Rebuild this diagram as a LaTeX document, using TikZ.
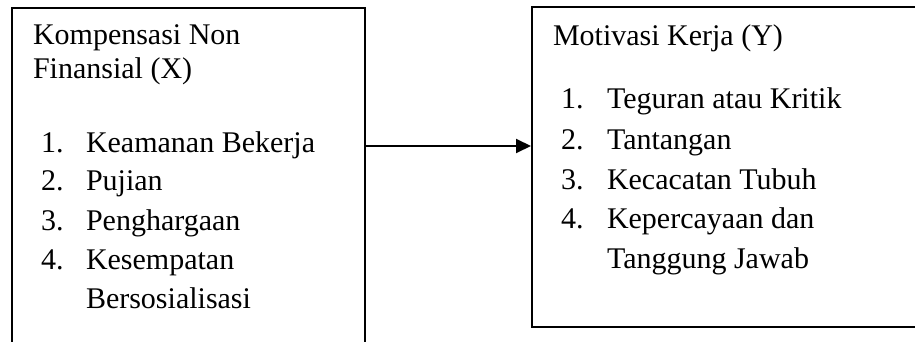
\documentclass[tikz,border=0pt]{standalone}
\usepackage{fontspec}
\setmainfont{Liberation Serif}
\usetikzlibrary{arrows.meta}
\usetikzlibrary{positioning}

\tikzset{
	box/.style={draw,line width=1pt,rectangle,inner sep=0pt},
	txt/.style={anchor=base west,inner sep=0pt,font=\fontsize{15pt}{18pt}\selectfont},
	>={Triangle[length=7.5pt,width=7pt]}
}

\begin{document}
\begin{tikzpicture}[x=0.5pt,y=-0.5pt,line width=1pt]
	\useasboundingbox (0,0) rectangle (915,342);
	\clip (0,0) rectangle (915,342);
	% the two boxes
	\node[box,minimum width=176.5pt,minimum height=186pt] (X) at (188.5,194) {};
	\node[box,minimum width=209pt,minimum height=160pt] (Y) at (741,167) {};
	% left box texts
	\node[txt] (XT1) at (32,45) {Kompensasi Non};
	\node[txt] (XT2) at (32,79) {Finansial (X)};
	\node[txt] (XN1) at (40,152) {1.};
	\node[txt] (X1) at (85,152) {Keamanan Bekerja};
	\node[txt] (XN2) at (40,191) {2.};
	\node[txt] (X2) at (85,191) {Pujian};
	\node[txt] (XN3) at (40,230) {3.};
	\node[txt] (X3) at (85,230) {Penghargaan};
	\node[txt] (XN4) at (40,269) {4.};
	\node[txt] (X4) at (85,269) {Kesempatan};
	\node[txt] (X4b) at (85,308) {Bersosialisasi};
	% right box texts
	\node[txt] (YT) at (552,46) {Motivasi Kerja (Y)};
	\node[txt] (YN1) at (560,109) {1.};
	\node[txt] (Y1) at (606,109) {Teguran atau Kritik};
	\node[txt] (YN2) at (560,149) {2.};
	\node[txt] (Y2) at (606,149) {Tantangan};
	\node[txt] (YN3) at (560,189) {3.};
	\node[txt] (Y3) at (606,189) {Kecacatan Tubuh};
	\node[txt] (YN4) at (560,228) {4.};
	\node[txt] (Y4) at (606,228) {Kepercayaan dan};
	\node[txt] (Y4b) at (606,268) {Tanggung Jawab};
	% arrow
	\coordinate (arr) at (0,146);
	\path[->] (X.east |- arr)	edge	(Y.west |- arr);
\end{tikzpicture}
\end{document}
